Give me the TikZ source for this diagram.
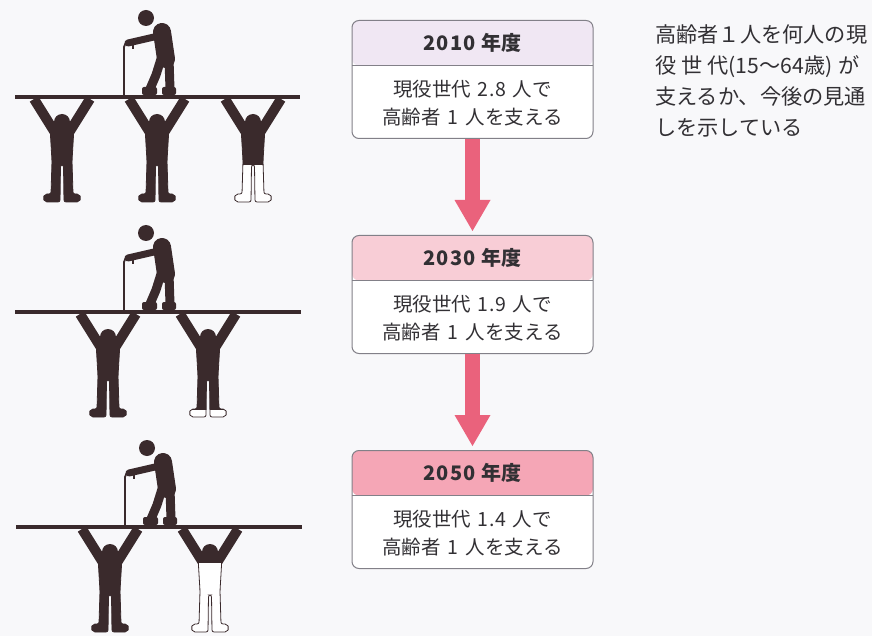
\documentclass[tikz,border=0pt]{standalone}
\usepackage{fontspec}
\setmainfont{Noto Sans CJK JP}
\usepackage{tikz}
\usetikzlibrary{arrows.meta, positioning}
\usepackage{xcolor}

\definecolor{ink}{RGB}{58,42,44}
\definecolor{boxgray}{RGB}{130,128,136}
\definecolor{hdrA}{RGB}{240,231,243}
\definecolor{hdrB}{RGB}{248,205,214}
\definecolor{hdrC}{RGB}{245,166,182}
\definecolor{arrowpink}{RGB}{234,98,124}
\definecolor{paper}{RGB}{248,248,250}
\definecolor{txt}{RGB}{50,48,52}

% outline of a worker's body (torso, legs, feet), bar at y=0
\def\bodyline{(-12,30) -- (12,30) -- (10,64) -- (11,97) -- (17,97) -- (19,101) -- (17,105)
  -- (2,105) -- (1.5,68) -- (-1.5,68) -- (-2,105) -- (-17,105) -- (-19,101) -- (-17,97)
  -- (-11,97) -- (-10,64) -- cycle}

% worker holding up the bar: x, bar y, depth down to which he is filled
\newcommand{\holder}[3]{%
  \begin{scope}[shift={(#1,#2)}]
    \path[fill=white,draw=ink,line width=0.8pt,rounded corners=2] \bodyline;
    \begin{scope}
      \clip (-30,0) rectangle (30,#3);
      \fill[ink,rounded corners=2] \bodyline;
    \end{scope}
    \draw[ink,line width=10pt] (-28,2) -- (-8,34) (28,2) -- (8,34);
    \fill[ink] (0,25) circle[radius=8];
  \end{scope}}

% old person with a cane, standing on the bar
\newcommand{\elder}[2]{%
  \begin{scope}[shift={(#1,#2)},ink]
    \fill (-4,-79) circle[radius=8];
    \draw[line width=18pt,line cap=round] (12,-65) -- (16,-38);
    \draw[line width=7pt,line cap=round] (4,-60) -- (-22,-54);
    \draw[line width=2pt] (-17,-54) -- (-17,-48);
    \draw[line width=1.8pt] (-26,-2) -- (-26,-50) to[out=90,in=180] (-21,-55);
    \draw[line width=9pt,line join=round] (11,-38) -- (6,-22) -- (0,-8);
    \draw[line width=9pt] (19,-38) -- (20,-8);
    \fill[rounded corners=2] (-8,-10) rectangle (7,-2);
    \fill[rounded corners=2] (12,-10) rectangle (26,-2);
  \end{scope}}

\newcommand{\digits}[1]{{\addfontfeature{LetterSpace=6}#1}}

\begin{document}
\begin{tikzpicture}[x=1pt,y=-1pt,node distance=215pt,on grid]
    \tikzstyle{yeartext}=[text=txt,font=\fontsize{20}{22}\selectfont\bfseries]
    \tikzstyle{bodytext}=[text=txt,align=center,font=\fontsize{19.5}{28}\selectfont]
    \tikzstyle{notetext}=[text=txt,align=left,inner sep=0pt,font=\fontsize{21.2}{31}\selectfont]
    \tikzstyle{down}=[color=arrowpink,line width=15pt,-{Triangle[width=36pt,length=31pt,line width=0pt]},shorten >=4pt]
    \tikzset{yearbox/.style={draw=boxgray,line width=1pt,rounded corners=7pt,fill=white,
        minimum width=241pt,minimum height=118pt,
        path picture={
          \fill[#1] (path picture bounding box.north west) rectangle ([yshift=-45pt]path picture bounding box.north east);
          \draw[boxgray,line width=0.8pt] ([yshift=-45pt]path picture bounding box.north west) -- ([yshift=-45pt]path picture bounding box.north east);}}}

    \useasboundingbox (0,0) rectangle (872,636);
    \fill[paper] (0,0) rectangle (872,636);

    % support ratio for each year
    \node[yearbox=hdrA] (y2010) at (472.5,79.5) {};
    \node[yearbox=hdrB,below=of y2010] (y2030) {};
    \node[yearbox=hdrC,below=of y2030] (y2050) {};

    \foreach \yr/\num in {2010/2.8,2030/1.9,2050/1.4} {
      \node[yeartext] (t\yr) at ([yshift=-23pt]y\yr.north) {\digits{\yr}\hspace{6pt}年度};
      \node[bodytext] (b\yr) at ([yshift=36pt]y\yr.south)
        {現役世代\hspace{6pt}\digits{\num}\hspace{6pt}人で\\高齢者\hspace{7pt}1\hspace{7pt}人を支える};
    }

    \path[down]
    (y2010) edge (y2030)
    (y2030) edge (y2050)
    ;

    \node[notetext,anchor=north west] (note) at (655,24)
      {高齢者１人を何人の現\\役\hspace{5pt}世\hspace{5pt}代(15〜64歳)\hspace{6pt}が\\支えるか、今後の見通\\しを示している};

    % 2010: three workers, the last one 0.8
    \holder{62}{97}{110} \holder{157}{97}{110} \holder{253}{97}{68}
    \draw[ink,line width=3.5pt] (15,97) -- (300,97);
    \elder{150}{97}

    % 2030: two workers, the last one 0.9
    \holder{108}{312}{110} \holder{208}{312}{97}
    \draw[ink,line width=3.5pt] (15,312) -- (301,312);
    \elder{150}{312}

    % 2050: two workers, the last one 0.4
    \holder{110}{527}{110} \holder{210}{527}{35}
    \draw[ink,line width=3.5pt] (16,527) -- (302,527);
    \elder{151}{527}
\end{tikzpicture}
\end{document}
